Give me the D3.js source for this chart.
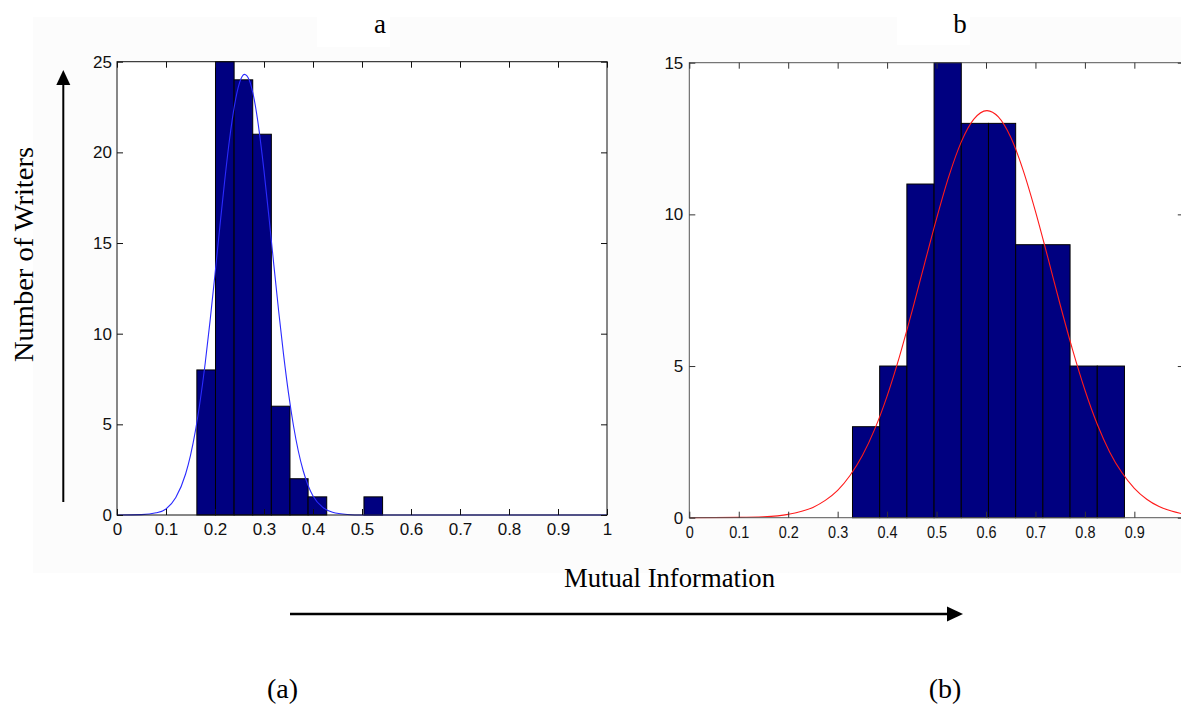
<!DOCTYPE html>
<html><head><meta charset="utf-8">
<script src="https://cdn.jsdelivr.net/npm/d3@7/dist/d3.min.js"></script>
<style>body{margin:0;background:#fff}svg{display:block}</style>
</head><body>
<svg id="chart" width="1181" height="704"></svg>
<script>
// ---------- data ----------
const binEdgesA = [0.163, 0.201, 0.239, 0.277, 0.315, 0.353, 0.390, 0.428, 0.466, 0.504, 0.542, 0.580, 0.618, 0.656, 0.694, 0.732];
const countsA   = [8, 25, 24, 21, 6, 2, 1, 0, 0, 1, 0, 0, 0, 0, 0];
const fitXA = [0, 0.05, 0.08, 0.10, 0.12, 0.14, 0.15, 0.16, 0.17, 0.18, 0.19, 0.20, 0.21, 0.22, 0.23, 0.24, 0.25, 0.26, 0.27, 0.28, 0.29, 0.30, 0.31, 0.32, 0.33, 0.34, 0.35, 0.36, 0.37, 0.38, 0.39, 0.40, 0.42, 0.44, 0.47, 0.50, 1.0];
const fitYA = [0, 0.02, 0.12, 0.33, 0.96, 2.26, 3.29, 4.64, 6.34, 8.37, 10.72, 13.28, 15.93, 18.49, 20.79, 22.62, 23.83, 24.30, 23.98, 22.92, 21.2, 18.98, 16.46, 13.81, 11.22, 8.83, 6.72, 4.95, 3.53, 2.44, 1.63, 1.05, 0.42, 0.15, 0.03, 0, 0];

const binEdgesB = [0.330, 0.385, 0.440, 0.495, 0.550, 0.605, 0.660, 0.715, 0.770, 0.825, 0.880];
const countsB   = [3, 5, 11, 15, 13, 13, 9, 9, 5, 5];
const fitXB = [0, 0.1, 0.15, 0.2, 0.25, 0.275, 0.3, 0.325, 0.35, 0.375, 0.4, 0.425, 0.45, 0.475, 0.5, 0.525, 0.55, 0.575, 0.602, 0.625, 0.65, 0.675, 0.7, 0.725, 0.75, 0.775, 0.8, 0.825, 0.85, 0.875, 0.9, 0.925, 0.95, 0.975, 1.0];
const fitYB = [0, 0.01, 0.03, 0.11, 0.34, 0.57, 0.90, 1.39, 2.05, 2.92, 4.01, 5.31, 6.78, 8.33, 9.86, 11.26, 12.39, 13.13, 13.42, 13.21, 12.54, 11.46, 10.1, 8.58, 7.02, 5.54, 4.21, 3.08, 2.17, 1.48, 0.97, 0.61, 0.37, 0.22, 0.12];

const xTickValuesA = [0, 0.1, 0.2, 0.3, 0.4, 0.5, 0.6, 0.7, 0.8, 0.9, 1];
const xTickLabelsA = ["0", "0.1", "0.2", "0.3", "0.4", "0.5", "0.6", "0.7", "0.8", "0.9", "1"];
const yTickValuesA = [0, 5, 10, 15, 20, 25];
const xTickValuesB = [0, 0.1, 0.2, 0.3, 0.4, 0.5, 0.6, 0.7, 0.8, 0.9];
const xTickLabelsB = ["0", "0.1", "0.2", "0.3", "0.4", "0.5", "0.6", "0.7", "0.8", "0.9"];
const yTickValuesB = [0, 5, 10, 15];

const panelTitles = ["a", "b"];
const yAxisTitle = "Number of Writers";
const xAxisTitle = "Mutual Information";
const captions = ["(a)", "(b)"];

// ---------- drawing ----------
const svg = d3.select("#chart");
const serif = "'Liberation Serif', 'Times New Roman', serif";
const sans = "'Liberation Sans', Arial, sans-serif";

// very faint page background behind the plots
svg.append("rect").attr("x", 33).attr("y", 17).attr("width", 1148).attr("height", 556).attr("fill", "#fcfcfc");
svg.append("rect").attr("x", 317).attr("y", 12).attr("width", 73).attr("height", 35).attr("fill", "#fff");
svg.append("rect").attr("x", 897).attr("y", 12).attr("width", 73).attr("height", 33).attr("fill", "#fff");

function panel(cfg) {
  const x = d3.scaleLinear().domain([0, 1]).range([cfg.left, cfg.right]);
  const y = d3.scaleLinear().domain([0, cfg.yMax]).range([cfg.bottom, cfg.top]);
  const g = svg.append("g");

  g.append("rect").attr("x", cfg.left).attr("y", cfg.top)
    .attr("width", cfg.right - cfg.left).attr("height", cfg.bottom - cfg.top).attr("fill", "#fff");

  // bars
  const bins = cfg.counts.map((c, i) => ({x0: cfg.edges[i], x1: cfg.edges[i + 1], c}));
  g.selectAll("rect.bar").data(bins).join("rect").attr("class", "bar")
    .attr("x", d => x(d.x0)).attr("width", d => x(d.x1) - x(d.x0))
    .attr("y", d => y(d.c)).attr("height", d => y(0) - y(d.c))
    .attr("fill", "#000080").attr("stroke", "#000").attr("stroke-width", 1);

  // fitted curve
  const pts = cfg.fitX.map((v, i) => [v, cfg.fitY[i]]);
  g.append("path").datum(pts)
    .attr("d", d3.line().curve(d3.curveMonotoneX).x(d => x(d[0])).y(d => y(d[1])))
    .attr("fill", "none").attr("stroke", cfg.curveColor).attr("stroke-width", 1.1);

  // frame
  g.append("rect").attr("x", cfg.left).attr("y", cfg.top)
    .attr("width", cfg.right - cfg.left).attr("height", cfg.bottom - cfg.top)
    .attr("fill", "none").attr("stroke", cfg.frameColor).attr("stroke-width", 1);

  // axes (inward ticks)
  const xb = g.append("g").attr("transform", `translate(0,${cfg.bottom})`)
    .call(d3.axisBottom(x).tickValues(cfg.xTicks).tickFormat((d, i) => cfg.xLabels[i])
      .tickSizeInner(-6).tickSizeOuter(0).tickPadding(8));
  const xt = g.append("g").attr("transform", `translate(0,${cfg.top})`)
    .call(d3.axisTop(x).tickValues(cfg.xTicks).tickFormat("").tickSizeInner(-6).tickSizeOuter(0));
  const yl = g.append("g").attr("transform", `translate(${cfg.left},0)`)
    .call(d3.axisLeft(y).tickValues(cfg.yTicks).tickFormat(d3.format("d"))
      .tickSizeInner(-6).tickSizeOuter(0).tickPadding(cfg.yPad));
  const yr = g.append("g").attr("transform", `translate(${cfg.right},0)`)
    .call(d3.axisRight(y).tickValues(cfg.yTicks).tickFormat("").tickSizeInner(-6).tickSizeOuter(0));
  [xb, xt, yl, yr].forEach(a => {
    a.select(".domain").remove();
    a.selectAll("line").attr("stroke", cfg.tickColor);
    a.selectAll("text").attr("font-family", sans).attr("font-size", 17).attr("fill", "#111");
  });
  if (cfg.xLabelScale !== 1) xb.selectAll("text").attr("transform", `scale(${cfg.xLabelScale},1)`);

  // title
  svg.append("text").attr("x", cfg.titleX).attr("y", 33).attr("text-anchor", "middle")
    .attr("font-family", serif).attr("font-size", 27).attr("fill", "#000").text(cfg.title);
}

panel({left: 117, right: 607, top: 61.7, bottom: 515, yMax: 25,
  edges: binEdgesA, counts: countsA, fitX: fitXA, fitY: fitYA, curveColor: "#2a2aff",
  xTicks: xTickValuesA, xLabels: xTickLabelsA, yTicks: yTickValuesA, yPad: 5,
  frameColor: "#111", tickColor: "#111", xLabelScale: 1, title: panelTitles[0], titleX: 380});

panel({left: 689.3, right: 1183.8, top: 62.7, bottom: 517.7, yMax: 15,
  edges: binEdgesB, counts: countsB, fitX: fitXB, fitY: fitYB, curveColor: "#ff1a1a",
  xTicks: xTickValuesB, xLabels: xTickLabelsB, yTicks: yTickValuesB, yPad: 6,
  frameColor: "#555", tickColor: "#333", xLabelScale: 0.85, title: panelTitles[1], titleX: 960});

// axis titles + arrows
svg.append("text").attr("transform", "translate(33,254.5) rotate(-90)")
  .attr("text-anchor", "middle").attr("font-family", serif).attr("font-size", 28)
  .attr("textLength", 215).attr("lengthAdjust", "spacingAndGlyphs").text(yAxisTitle);
svg.append("line").attr("x1", 63.3).attr("y1", 502).attr("x2", 63.3).attr("y2", 84)
  .attr("stroke", "#000").attr("stroke-width", 2);
svg.append("path").attr("d", "M63.3,70 L56.3,85 L70.3,85 Z").attr("fill", "#000");

svg.append("text").attr("x", 669.5).attr("y", 587).attr("text-anchor", "middle")
  .attr("font-family", serif).attr("font-size", 27)
  .attr("textLength", 211).attr("lengthAdjust", "spacingAndGlyphs").text(xAxisTitle);
svg.append("line").attr("x1", 290).attr("y1", 614).attr("x2", 950).attr("y2", 614)
  .attr("stroke", "#000").attr("stroke-width", 2.5);
svg.append("path").attr("d", "M963,614 L947,606.5 L947,621.5 Z").attr("fill", "#000");

svg.append("text").attr("x", 282.5).attr("y", 698).attr("text-anchor", "middle")
  .attr("font-family", serif).attr("font-size", 28).text(captions[0]);
svg.append("text").attr("x", 945).attr("y", 698).attr("text-anchor", "middle")
  .attr("font-family", serif).attr("font-size", 28).text(captions[1]);
</script>
</body></html>
